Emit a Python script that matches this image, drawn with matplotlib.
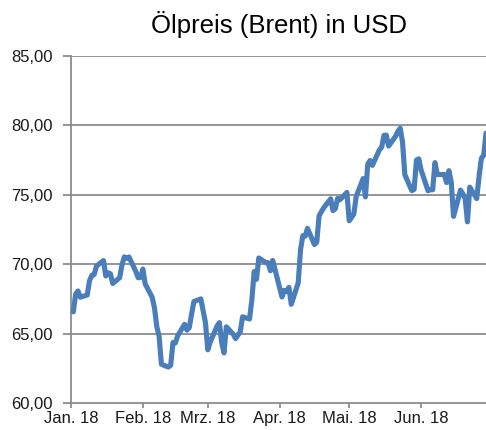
import matplotlib
matplotlib.use("Agg")
import matplotlib.pyplot as plt
import matplotlib.ticker as mticker
import pandas as pd

# ---- data (Brent, USD, daily closes) ----
jan_vals = [66.57, 67.84, 68.07, 67.62, 67.78, 68.82, 69.20, 69.26, 69.87, 70.26, 69.15,
            69.38, 69.31, 68.61, 69.03, 69.96, 70.53, 70.42, 70.52, 69.46, 69.02, 69.05]
feb_vals = [69.65, 68.58, 67.62, 66.86, 65.51, 64.81, 62.79, 62.59, 62.72, 64.36, 64.33,
            64.84, 65.67, 65.25, 65.42, 66.39, 67.31, 67.50, 66.63, 65.78]
mar_vals = [63.83, 64.37, 65.54, 65.79, 64.34, 63.61, 65.49, 64.95, 64.64, 64.89, 65.12,
            66.21, 66.05, 67.42, 69.47, 68.91, 70.45, 70.12, 70.11, 69.53, 70.27]
apr_vals = [67.64, 68.12, 68.02, 68.33, 67.11, 68.65, 71.04, 72.06, 72.02, 72.58, 71.42,
            71.58, 73.48, 73.78, 74.06, 74.71, 73.86, 74.00, 74.74, 74.64, 75.17]
may_vals = [73.13, 73.36, 73.62, 74.87, 76.17, 74.85, 77.21, 77.47, 77.12, 78.23, 78.43,
            79.28, 79.30, 78.51, 79.22, 79.57, 79.80, 78.79, 76.44, 75.30, 75.39, 77.50, 77.59]
jun_vals = [76.79, 75.29, 75.38, 75.36, 77.32, 76.46, 76.46, 75.88, 76.74, 75.94, 73.44,
            75.34, 75.08, 74.74, 73.05, 75.55, 74.73, 76.31, 77.62, 77.85, 79.44]
holidays = ["2018-01-01", "2018-03-30"]
month_labels = ["Jan. 18", "Feb. 18", "Mrz. 18", "Apr. 18", "Mai. 18", "Jun. 18"]
month_starts = ["2018-01-01", "2018-02-01", "2018-03-01", "2018-04-01", "2018-05-01", "2018-06-01"]
y_ticks = [60, 65, 70, 75, 80, 85]
title = "Ölpreis (Brent) in USD"

dates = pd.bdate_range("2018-01-01", "2018-06-29")
dates = dates[~dates.isin(pd.to_datetime(holidays))]
values = jan_vals + feb_vals + mar_vals + apr_vals + may_vals + jun_vals
assert len(dates) == len(values)

plt.rcParams["font.family"] = ["Liberation Sans", "DejaVu Sans"]

W, H = 486, 430
fig = plt.figure(figsize=(W / 100, H / 100), dpi=100)
ax = fig.add_axes([71 / W, 1 - 403 / H, (486 - 71) / W, (403 - 56) / H])

grid_c = "#8c8c8c"
for v in y_ticks[1:]:
    ax.axhline(v, color=grid_c, lw=1.3, zorder=1)

ax.plot(dates, values, color="#4a7ebb", lw=3.7, solid_joinstyle="round",
        solid_capstyle="round", zorder=3)

ax.set_xlim(pd.Timestamp("2018-01-01"), pd.Timestamp("2018-06-29"))
ax.set_ylim(60, 85)
ax.set_yticks(y_ticks)
ax.yaxis.set_major_formatter(mticker.FuncFormatter(lambda v, p: f"{v:.2f}".replace(".", ",")))
ax.set_xticks(pd.to_datetime(month_starts))
ax.set_xticklabels(month_labels)

for s in ["top", "right"]:
    ax.spines[s].set_visible(False)
for s in ["left", "bottom"]:
    ax.spines[s].set_color(grid_c)
    ax.spines[s].set_linewidth(1.3)

ax.tick_params(axis="y", length=5.5, width=1.3, color=grid_c, pad=8, labelsize=12,
               labelcolor="#1a1a1a")
ax.tick_params(axis="x", length=3.6, width=1.3, color=grid_c, pad=2.5, labelsize=12,
               labelcolor="#1a1a1a")

fig.text((71 + 486) / 2 / W, 1 - 33 / H, title, ha="center", va="baseline",
         fontsize=18.5, color="#000000")

fig.savefig("out.png", dpi=100)
